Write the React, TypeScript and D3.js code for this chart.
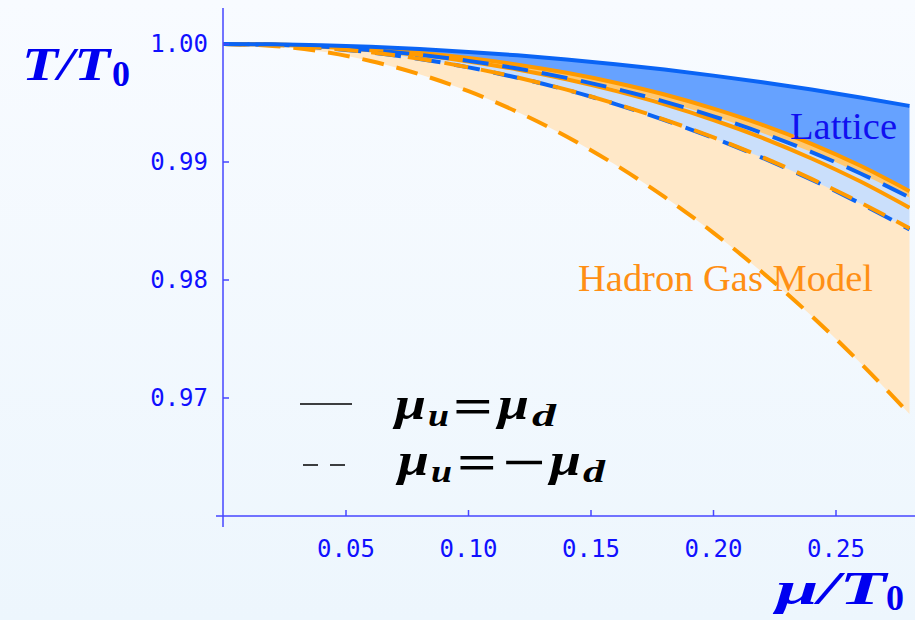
import React from "react";
import * as d3 from "d3";

// chemical potential grid mu/T0
const mu = [0, 0.02, 0.04, 0.06, 0.08, 0.1, 0.12, 0.14, 0.16, 0.18, 0.2, 0.22, 0.24, 0.26, 0.28];

// Lattice, mu_u = mu_d (solid blue band)
const latticeSameUpper = [1, 0.99997, 0.99989, 0.99976, 0.99957, 0.99933, 0.99904, 0.99869, 0.99828, 0.99783, 0.99732, 0.99676, 0.99614, 0.99547, 0.99475];
const latticeSameLower = [1, 0.99995, 0.99982, 0.99958, 0.99925, 0.99881, 0.99825, 0.99756, 0.99672, 0.99572, 0.99453, 0.99315, 0.99154, 0.98968, 0.98753];
// Lattice, mu_u = -mu_d (dashed blue band)
const latticeOppUpper = [1, 0.99994, 0.99978, 0.99949, 0.99909, 0.99857, 0.99792, 0.99713, 0.9962, 0.99512, 0.99387, 0.99245, 0.99084, 0.98903, 0.987];
const latticeOppLower = [1, 0.99992, 0.99968, 0.99929, 0.99873, 0.99802, 0.99714, 0.99611, 0.99491, 0.99355, 0.99203, 0.99035, 0.9885, 0.98648, 0.98429];
// Hadron gas model, mu_u = mu_d (solid orange band)
const hrgSameUpper = [1, 0.99995, 0.99982, 0.99958, 0.99925, 0.99881, 0.99825, 0.99756, 0.99672, 0.99572, 0.99453, 0.99315, 0.99154, 0.98968, 0.98753];
const hrgSameLower = [1, 0.99994, 0.99977, 0.99948, 0.99906, 0.99852, 0.99784, 0.99701, 0.99603, 0.99489, 0.99356, 0.99204, 0.9903, 0.98834, 0.98612];
// Hadron gas model, mu_u = -mu_d (dashed orange band)
const hrgOppUpper = [1, 0.99992, 0.99968, 0.9993, 0.99874, 0.99803, 0.99716, 0.99613, 0.99494, 0.99359, 0.99208, 0.99041, 0.98857, 0.98656, 0.98438];
const hrgOppLower = [1, 0.99984, 0.99936, 0.99856, 0.99744, 0.996, 0.99424, 0.99216, 0.98976, 0.98704, 0.984, 0.98064, 0.97696, 0.97296, 0.96864];

const xTicks = [0.05, 0.1, 0.15, 0.2, 0.25];
const xTickLabels = ["0.05", "0.10", "0.15", "0.20", "0.25"];
const yTicks = [1.0, 0.99, 0.98, 0.97];
const yTickLabels = ["1.00", "0.99", "0.98", "0.97"];

const W = 915;
const H = 620;

const BLUE = "#0a64f5";
const ORANGE = "#ff9a00";
const AXIS = "#4646ff";
const TXT = "#1010ff";
const MATH = "#0000f0";

const SERIF = "'Liberation Serif', serif";

export default function App() {
  const x = d3.scaleLinear().domain([0, 0.28]).range([223.5, 909.5]);
  const y = d3.scaleLinear().domain([0.96, 1.0]).range([516, 44]);
  const idx = mu.map((_, i) => i);

  const band = (hi: number[], lo: number[]) =>
    d3
      .area<number>()
      .x((i) => x(mu[i]))
      .y0((i) => y(lo[i]))
      .y1((i) => y(hi[i]))
      .curve(d3.curveMonotoneX)(idx) || "";
  const line = (v: number[]) =>
    d3
      .line<number>()
      .x((i) => x(mu[i]))
      .y((i) => y(v[i]))
      .curve(d3.curveMonotoneX)(idx) || "";

  const bi = { fontFamily: SERIF, fontWeight: 700, fontStyle: "italic" as const };
  const bu = { fontFamily: SERIF, fontWeight: 700, fontStyle: "normal" as const };
  const fit = "spacingAndGlyphs";

  return (
    <div style={{ position: "fixed", left: 0, top: 0, width: W, height: H }}>
      <svg width={W} height={H} viewBox={`0 0 ${W} ${H}`}>
        <defs>
          <linearGradient id="bg" x1="0" y1="0" x2="0" y2="1">
            <stop offset="0" stopColor="#f8fbff" />
            <stop offset="1" stopColor="#edf6fd" />
          </linearGradient>
          <clipPath id="plot">
            <rect x={223} y={0} width={910 - 223} height={517} />
          </clipPath>
        </defs>
        <rect x={0} y={0} width={W} height={H} fill="url(#bg)" />

        <g clipPath="url(#plot)">
          <path d={band(hrgOppUpper, hrgOppLower)} fill="#ffe8c8" />
          <path d={band(hrgSameUpper, hrgSameLower)} fill="#ffc870" />
          <path d={band(latticeOppUpper, latticeOppLower)} fill="#cadffb" />
          <path d={band(latticeSameUpper, latticeSameLower)} fill="#66a2ff" />

          <path d={line(hrgSameUpper)} fill="none" stroke={ORANGE} strokeWidth={4} />
          <path d={line(hrgSameLower)} fill="none" stroke={ORANGE} strokeWidth={4} />
          <path d={line(latticeOppUpper)} fill="none" stroke={BLUE} strokeWidth={4} strokeDasharray="26 14" />
          <path d={line(latticeOppLower)} fill="none" stroke={BLUE} strokeWidth={4} strokeDasharray="26 14" strokeDashoffset={8} />
          <path d={line(hrgOppUpper)} fill="none" stroke={ORANGE} strokeWidth={4} strokeDasharray="24 13" />
          <path d={line(hrgOppLower)} fill="none" stroke={ORANGE} strokeWidth={4} strokeDasharray="22 13" />
          <path d={line(latticeSameUpper)} fill="none" stroke={BLUE} strokeWidth={4} />
        </g>

        {/* axes */}
        <line x1={223} x2={223} y1={8} y2={527} stroke={AXIS} strokeWidth={1.5} />
        <line x1={216} x2={915} y1={516} y2={516} stroke={AXIS} strokeWidth={1.5} />
        {yTicks.map((t, i) => (
          <g key={"y" + i}>
            <line x1={223} x2={229} y1={y(t)} y2={y(t)} stroke={AXIS} strokeWidth={1.5} />
            <text x={208} y={y(t) + 8} textAnchor="end" fill={TXT} fontFamily="'DejaVu Sans Mono', monospace" fontSize={24}>
              {yTickLabels[i]}
            </text>
          </g>
        ))}
        {xTicks.map((t, i) => (
          <g key={"x" + i}>
            <line x1={x(t)} x2={x(t)} y1={516} y2={510} stroke={AXIS} strokeWidth={1.5} />
            <text x={x(t)} y={557} textAnchor="middle" fill={TXT} fontFamily="'DejaVu Sans Mono', monospace" fontSize={24}>
              {xTickLabels[i]}
            </text>
          </g>
        ))}

        {/* axis titles */}
        <text x={22} y={80} fill={MATH} {...bi} fontSize={46} textLength={88} lengthAdjust={fit}>
          T/T
        </text>
        <text x={112} y={86} fill={MATH} {...bu} fontSize={36}>
          0
        </text>
        <text x={776} y={604} fill={MATH} {...bi} fontSize={46} textLength={110} lengthAdjust={fit}>
          μ/T
        </text>
        <text x={886} y={610} fill={MATH} {...bu} fontSize={36}>
          0
        </text>

        {/* band labels */}
        <text x={790} y={139} fill="#1010f0" fontFamily={SERIF} fontSize={37} textLength={107} lengthAdjust={fit}>
          Lattice
        </text>
        <text x={578} y={291} fill="#ff8f14" fontFamily={SERIF} fontSize={37} textLength={295} lengthAdjust={fit}>
          Hadron Gas Model
        </text>

        {/* legend */}
        <line x1={300} x2={352} y1={404} y2={404} stroke="#000" strokeWidth={1.5} />
        <line x1={303} x2={345} y1={465} y2={465} stroke="#000" strokeWidth={1.5} strokeDasharray="15 12" />

        <g fill="#000">
          <text x={395} y={419} {...bi} fontSize={46} textLength={31} lengthAdjust={fit}>μ</text>
          <text x={428} y={426} {...bi} fontSize={32} textLength={21} lengthAdjust={fit}>u</text>
          <text x={453} y={423} {...bu} fontSize={50} textLength={40} lengthAdjust={fit}>=</text>
          <text x={498} y={419} {...bi} fontSize={46} textLength={31} lengthAdjust={fit}>μ</text>
          <text x={532} y={426} {...bi} fontSize={32} textLength={24} lengthAdjust={fit}>d</text>

          <text x={398} y={475} {...bi} fontSize={46} textLength={31} lengthAdjust={fit}>μ</text>
          <text x={431} y={482} {...bi} fontSize={32} textLength={21} lengthAdjust={fit}>u</text>
          <text x={457} y={479} {...bu} fontSize={50} textLength={40} lengthAdjust={fit}>=</text>
          <text x={502} y={479} {...bu} fontSize={50} textLength={44} lengthAdjust={fit}>−</text>
          <text x={550} y={475} {...bi} fontSize={46} textLength={31} lengthAdjust={fit}>μ</text>
          <text x={583} y={482} {...bi} fontSize={32} textLength={22} lengthAdjust={fit}>d</text>
        </g>
      </svg>
    </div>
  );
}
